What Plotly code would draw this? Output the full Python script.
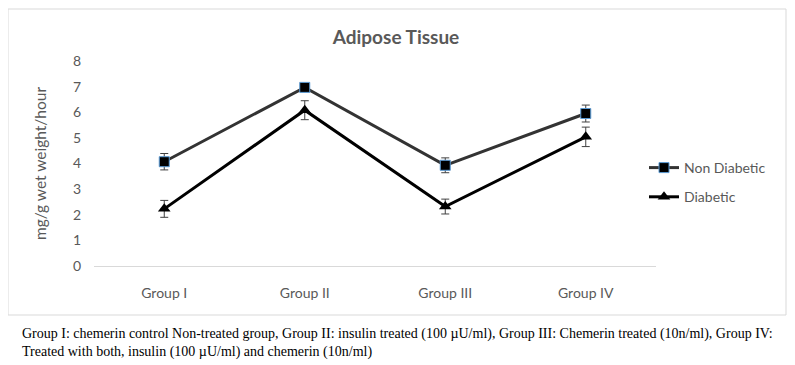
import plotly.graph_objects as go

groups = ["Group I", "Group II", "Group III", "Group IV"]
non_diabetic = [4.07, 6.97, 3.93, 5.95]
non_diabetic_err = [0.32, 0.15, 0.29, 0.33]
diabetic = [2.23, 6.08, 2.32, 5.04]
diabetic_err = [0.33, 0.37, 0.29, 0.38]
y_ticks = [0, 1, 2, 3, 4, 5, 6, 7, 8]

OFF = 8  # default page body margin
W, H = 795 - OFF, 365 - OFF
L, R, T, B = 94 - OFF, 656 - OFF, 61 - OFF, 266 - OFF
pw, ph = R - L, B - T

def px(x):
    return (x - OFF - L) / pw

def py(y):
    return (B - (y - OFF)) / ph

fig = go.Figure()
fig.add_trace(go.Scatter(
    x=groups, y=non_diabetic, name="Non Diabetic", mode="lines+markers",
    line=dict(color="#333333", width=3),
    marker=dict(symbol="square", size=10, color="black", line=dict(color="#5b9bd5", width=1)),
    error_y=dict(type="data", array=non_diabetic_err, color="#404040", thickness=1, width=4),
    legendgroup="a",
))
fig.add_trace(go.Scatter(
    x=groups, y=diabetic, name="Diabetic", mode="lines+markers",
    line=dict(color="black", width=3),
    marker=dict(symbol="triangle-up", size=11, color="black"),
    error_y=dict(type="data", array=diabetic_err, color="#404040", thickness=1, width=4),
    legendgroup="b",
))

fig.update_layout(
    width=W, height=H,
    margin=dict(l=L, r=W - R, t=T, b=H - B),
    paper_bgcolor="white", plot_bgcolor="white",
    font=dict(family="Lato, Open Sans, sans-serif", color="#595959", size=14),
    title=dict(text="<b>Adipose Tissue</b>", x=(396 - OFF) / W, xanchor="center",
               y=1 - (37 - OFF) / H, yanchor="middle",
               font=dict(size=19, color="#595959", family="Lato, Open Sans, sans-serif")),
    showlegend=True,
    legend=dict(x=px(644), y=py(182.5), xanchor="left", yanchor="middle",
                font=dict(size=14, color="#595959"), tracegroupgap=8,
                bgcolor="rgba(0,0,0,0)"),
    xaxis=dict(range=[-0.5, 3.5], showgrid=False, showline=True, linecolor="#d9d9d9",
               linewidth=1, ticks="", tickfont=dict(size=14, color="#595959"),
               zeroline=False, fixedrange=True, ticklabelstandoff=14),
    yaxis=dict(range=[0, 8], tickvals=y_ticks, showgrid=False, showline=False,
               zeroline=False, ticks="", tickfont=dict(size=14, color="#595959"),
               title=dict(text="mg/g wet weight/hour", font=dict(size=15.5, color="#595959"),
                          standoff=22),
               ticklabelstandoff=12),
)

# chart border
fig.add_shape(type="rect", xref="paper", yref="paper",
              x0=px(8), x1=px(786), y0=py(315), y1=py(9),
              line=dict(color="#d9d9d9", width=1), layer="below")

caption1 = ("Group I: chemerin control Non-treated group, Group II: insulin treated (100 \u00b5U/ml), "
            "Group III: Chemerin treated (10n/ml), Group IV:")
caption2 = "Treated with both, insulin (100 \u00b5U/ml) and chemerin (10n/ml)"
for txt, yy in [(caption1, 334), (caption2, 352)]:
    fig.add_annotation(text=txt, xref="paper", yref="paper", x=px(20), y=py(yy),
                       xanchor="left", yanchor="middle", showarrow=False,
                       font=dict(family="Liberation Serif, Times New Roman, serif",
                                 size=14, color="black"))

fig.write_html("out.html")
